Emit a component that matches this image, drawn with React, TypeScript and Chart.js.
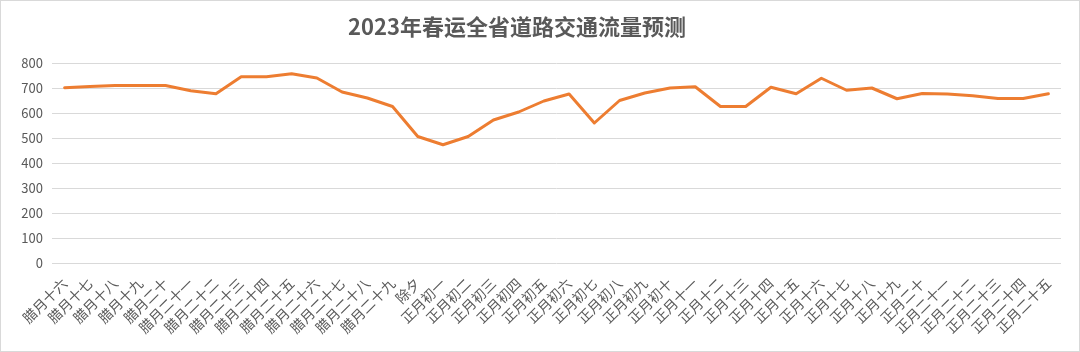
import React, { useEffect, useRef } from "react";
import { Chart, registerables } from "chart.js";

Chart.register(...registerables);

const chartTitle = "2023年春运全省道路交通流量预测";

const categories = [
  "腊月十六", "腊月十七", "腊月十八", "腊月十九", "腊月二十",
  "腊月二十一", "腊月二十二", "腊月二十三", "腊月二十四", "腊月二十五",
  "腊月二十六", "腊月二十七", "腊月二十八", "腊月二十九", "除夕",
  "正月初一", "正月初二", "正月初三", "正月初四", "正月初五",
  "正月初六", "正月初七", "正月初八", "正月初九", "正月初十",
  "正月十一", "正月十二", "正月十三", "正月十四", "正月十五",
  "正月十六", "正月十七", "正月十八", "正月十九", "正月二十",
  "正月二十一", "正月二十二", "正月二十三", "正月二十四", "正月二十五",
];

const trafficValues = [
  701, 706, 710, 710, 710, 689, 677, 745, 745, 757,
  740, 684, 660, 626, 506, 473, 506, 572, 604, 648,
  676, 560, 650, 680, 700, 705, 626, 626, 703, 677,
  739, 691, 700, 657, 678, 676, 669, 658, 658, 677,
];

const yTicks = [0, 100, 200, 300, 400, 500, 600, 700, 800];

const FONT = '"Noto Sans CJK SC", "Liberation Sans", sans-serif';
const TEXT = "#595959";
const GRID = "#d9d9d9";

const titlePlugin = {
  id: "offsetTitle",
  afterDraw(chart: any) {
    const ctx = chart.ctx;
    ctx.save();
    ctx.font = `bold 22px ${FONT}`;
    ctx.fillStyle = TEXT;
    ctx.textAlign = "center";
    ctx.textBaseline = "middle";
    ctx.fillText(chartTitle, 516, 26);
    ctx.restore();
  },
};

export default function App() {
  const ref = useRef<HTMLCanvasElement | null>(null);

  useEffect(() => {
    if (!ref.current) return;
    const chart = new Chart(ref.current, {
      type: "line",
      data: {
        labels: categories,
        datasets: [
          {
            label: "流量",
            data: trafficValues,
            borderColor: "#ED7D31",
            backgroundColor: "#ED7D31",
            borderWidth: 3,
            pointRadius: 0,
            tension: 0,
            borderJoinStyle: "round",
            borderCapStyle: "round",
          },
        ],
      },
      plugins: [titlePlugin],
      options: {
        responsive: false,
        animation: false,
        devicePixelRatio: 1,
        layout: { padding: { left: 0, right: 18, top: 62, bottom: 0 } },
        plugins: {
          legend: { display: false },
          tooltip: { enabled: false },
          title: { display: false },
        },
        scales: {
          x: {
            offset: true,
            grid: { display: false, drawTicks: false },
            border: { display: false },
            ticks: {
              autoSkip: false,
              minRotation: 45,
              maxRotation: 45,
              padding: 12,
              color: TEXT,
              font: { family: FONT, size: 14 },
            },
            afterFit: (scale: any) => {
              scale.height = 88;
            },
          },
          y: {
            min: 0,
            max: 800,
            afterBuildTicks: (scale: any) => {
              scale.ticks = yTicks.map((v) => ({ value: v }));
            },
            grid: { color: GRID, lineWidth: 1, drawTicks: false },
            border: { display: false },
            ticks: {
              padding: 9,
              color: TEXT,
              font: { family: FONT, size: 13 },
            },
            afterFit: (scale: any) => {
              scale.width = 51;
            },
          },
        },
      },
    });
    return () => chart.destroy();
  }, []);

  return (
    <div
      style={{
        position: "absolute",
        left: 0,
        top: 0,
        width: 1080,
        height: 352,
        boxSizing: "border-box",
        border: "1px solid #d9d9d9",
        background: "#ffffff",
      }}
    >
      <canvas ref={ref} width={1078} height={350} style={{ display: "block", width: 1078, height: 350 }} />
    </div>
  );
}
